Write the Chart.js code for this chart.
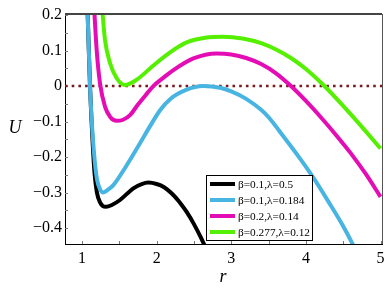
<!DOCTYPE html>
<html>
<head>
<meta charset="utf-8">
<script src="https://cdn.jsdelivr.net/npm/chart.js@4.4.1/dist/chart.umd.min.js"></script>
<style>
  html, body { margin: 0; padding: 0; background: #fff; }
  #wrap { width: 390px; height: 293px; }
</style>
</head>
<body>
<div id="wrap"><canvas id="chart" width="390" height="293"></canvas></div>
<script>
  // values
  const rBlack = [1.05, 1.076, 1.107, 1.14, 1.17, 1.2, 1.24, 1.28, 1.32, 1.4, 1.509, 1.688, 1.8, 1.889, 2.0, 2.1, 2.2, 2.3, 2.4, 2.5, 2.6, 2.7];
  const uBlack = [0.35, 0.2, 0.0, -0.15, -0.25, -0.3, -0.327, -0.338, -0.34, -0.335, -0.321, -0.288, -0.276, -0.272, -0.276, -0.285, -0.302, -0.325, -0.354, -0.389, -0.43, -0.476];

  const rBlue = [1.05, 1.076, 1.107, 1.14, 1.17, 1.2, 1.24, 1.285, 1.33, 1.42, 1.599, 1.777, 1.912, 2.046, 2.18, 2.394, 2.622, 2.85, 3.0, 3.2, 3.4, 3.5, 3.7, 3.9, 4.1, 4.3, 4.5, 4.7];
  const uBlue = [0.35, 0.2, 0.0, -0.13, -0.21, -0.262, -0.29, -0.3, -0.295, -0.279, -0.223, -0.161, -0.113, -0.068, -0.037, -0.011, 0.0, -0.005, -0.015, -0.036, -0.067, -0.088, -0.142, -0.198, -0.258, -0.325, -0.395, -0.475];

  const rMagenta = [1.12, 1.168, 1.197, 1.241, 1.308, 1.38, 1.465, 1.55, 1.643, 1.75, 1.867, 1.956, 2.1, 2.224, 2.492, 2.806, 3.0, 3.2, 3.4, 3.6, 3.8, 4.0, 4.2, 4.4, 4.6, 4.8, 5.0];
  const uMagenta = [0.38, 0.2, 0.1, 0.008, -0.058, -0.088, -0.098, -0.095, -0.082, -0.052, -0.022, 0.0, 0.025, 0.045, 0.078, 0.092, 0.089, 0.079, 0.062, 0.036, 0.0, -0.042, -0.088, -0.137, -0.189, -0.247, -0.312];

  const rGreen = [1.22, 1.277, 1.308, 1.375, 1.465, 1.576, 1.733, 1.956, 2.18, 2.403, 2.65, 2.894, 3.15, 3.4, 3.6, 3.8, 4.0, 4.2, 4.4, 4.6, 4.8, 5.0];
  const uGreen = [0.36, 0.2, 0.13, 0.065, 0.022, 0.003, 0.018, 0.058, 0.095, 0.123, 0.136, 0.139, 0.134, 0.121, 0.103, 0.079, 0.048, 0.01, -0.033, -0.079, -0.127, -0.176];

  const zeroLineR = [0.772, 5.02];
  const zeroLineU = [0, 0];

  const seriesLabels = ['β=0.1,λ=0.5', 'β=0.1,λ=0.184', 'β=0.2,λ=0.14', 'β=0.277,λ=0.12'];
  const xTicks = [1, 2, 3, 4, 5];
  const yTicks = [-0.4, -0.3, -0.2, -0.1, 0, 0.1, 0.2];

  const colors = {
    black: '#000000',
    blue: '#48b4e2',
    magenta: '#e40cb4',
    green: '#55f000',
    zero: '#7a1a1a'
  };

  const toPoints = (xs, ys) => xs.map((x, i) => ({ x: x, y: ys[i] }));

  const curve = (label, xs, ys, color, order) => ({
    label: label,
    data: toPoints(xs, ys),
    borderColor: color,
    backgroundColor: color,
    borderWidth: 4,
    pointRadius: 0,
    cubicInterpolationMode: 'monotone',
    clip: 0,
    order: order
  });

  const serif = 'Liberation Serif, Times New Roman, serif';

  const frame = {
    id: 'frame',
    beforeDatasetsDraw(chart) {
      const { ctx, chartArea: a, scales: { x, y } } = chart;
      ctx.save();
      // small inside ticks every 0.5 on r and 0.05 on U
      ctx.strokeStyle = '#777';
      ctx.lineWidth = 1;
      for (let v = 1; v <= 5.001; v += 0.5) {
        const px = Math.round(x.getPixelForValue(v)) + 0.5;
        ctx.beginPath();
        ctx.moveTo(px, a.bottom);
        ctx.lineTo(px, a.bottom - 3);
        ctx.stroke();
      }
      for (let v = -0.4; v <= 0.2001; v += 0.05) {
        const py = Math.round(y.getPixelForValue(v)) + 0.5;
        ctx.beginPath();
        ctx.moveTo(a.left, py);
        ctx.lineTo(a.left + 3, py);
        ctx.stroke();
      }
      ctx.restore();
    },
    afterDraw(chart) {
      const { ctx, chartArea: a } = chart;
      ctx.save();
      // top and right edges of the box
      ctx.strokeStyle = '#444';
      ctx.lineWidth = 2;
      ctx.beginPath();
      ctx.moveTo(a.left, a.top);
      ctx.lineTo(a.right, a.top);
      ctx.stroke();
      ctx.strokeStyle = '#555';
      ctx.lineWidth = 1;
      ctx.beginPath();
      ctx.moveTo(a.right + 0.5, a.top);
      ctx.lineTo(a.right + 0.5, a.bottom);
      ctx.stroke();

      // axis titles
      ctx.fillStyle = '#000';
      ctx.font = 'italic 18px ' + serif;
      ctx.textAlign = 'center';
      ctx.textBaseline = 'middle';
      ctx.fillText('U', 15, 128);
      ctx.fillText('r', 223, 277);

      // legend box
      const box = { left: 206.5, top: 175.5, width: 106, height: 65 };
      ctx.fillStyle = '#fff';
      ctx.fillRect(box.left, box.top, box.width, box.height);
      ctx.strokeStyle = '#000';
      ctx.lineWidth = 1;
      ctx.strokeRect(box.left, box.top, box.width, box.height);
      ctx.font = '11.3px ' + serif;
      ctx.textAlign = 'left';
      const legendSets = chart.data.datasets.filter(d => seriesLabels.includes(d.label));
      legendSets.sort((p, q) => seriesLabels.indexOf(p.label) - seriesLabels.indexOf(q.label));
      legendSets.forEach((d, i) => {
        const yy = 184 + i * 16;
        ctx.strokeStyle = d.borderColor;
        ctx.lineWidth = 4;
        ctx.beginPath();
        ctx.moveTo(210, yy);
        ctx.lineTo(235, yy);
        ctx.stroke();
        ctx.fillStyle = '#000';
        ctx.fillText(d.label, 238, yy + 1);
      });
      ctx.restore();
    }
  };

  const ctx = document.getElementById('chart');

  new Chart(ctx, {
    type: 'line',
    data: {
      datasets: [
        curve(seriesLabels[0], rBlack, uBlack, colors.black, 2),
        curve(seriesLabels[1], rBlue, uBlue, colors.blue, 1),
        curve(seriesLabels[2], rMagenta, uMagenta, colors.magenta, 3),
        curve(seriesLabels[3], rGreen, uGreen, colors.green, 4),
        {
          label: 'zero',
          data: toPoints(zeroLineR, zeroLineU),
          borderColor: colors.zero,
          borderWidth: 2.6,
          borderDash: [2.6, 4.1],
          pointRadius: 0,
          clip: 0,
          order: 5
        }
      ]
    },
    options: {
      responsive: false,
      animation: false,
      devicePixelRatio: 1,
      layout: {
        padding: { top: 14, right: 8, left: 0, bottom: 0 }
      },
      scales: {
        x: {
          type: 'linear',
          min: 0.772,
          max: 5.02,
          afterBuildTicks: (scale) => { scale.ticks = xTicks.map(v => ({ value: v })); },
          afterFit: (scale) => { scale.height = 49; },
          grid: { display: false, drawTicks: false },
          border: { display: true, color: '#000', width: 1 },
          ticks: {
            color: '#000',
            padding: 5,
            maxRotation: 0,
            autoSkip: false,
            font: { family: serif, size: 16 },
            callback: (v) => String(v)
          }
        },
        y: {
          type: 'linear',
          min: -0.445,
          max: 0.203,
          afterBuildTicks: (scale) => { scale.ticks = yTicks.map(v => ({ value: v })); },
          afterFit: (scale) => { scale.width = 65; },
          grid: { display: false, drawTicks: false },
          border: { display: true, color: '#000', width: 1 },
          ticks: {
            color: '#000',
            padding: 3,
            autoSkip: false,
            font: { family: serif, size: 16 },
            callback: (v) => {
              const n = Math.round(v * 10) / 10;
              return n < 0 ? '\u2212' + Math.abs(n) : String(n);
            }
          }
        }
      },
      plugins: {
        legend: { display: false },
        tooltip: { enabled: false }
      }
    },
    plugins: [frame]
  });
</script>
</body>
</html>
